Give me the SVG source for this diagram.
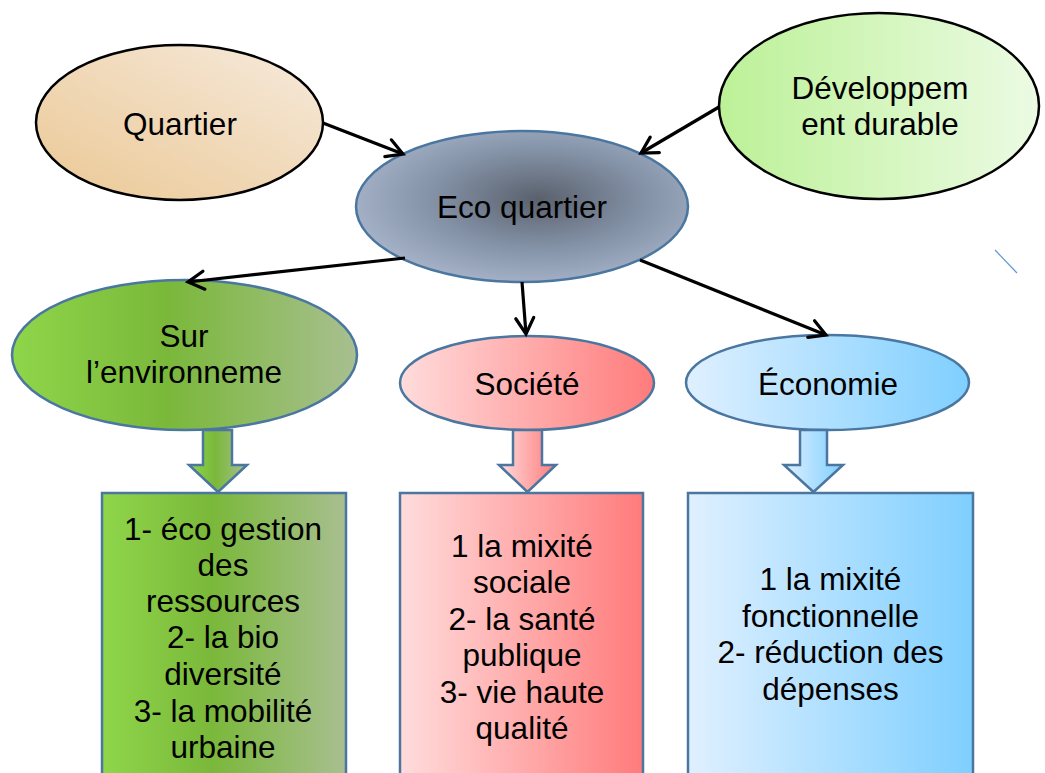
<svg xmlns="http://www.w3.org/2000/svg" width="1045" height="773" viewBox="0 0 1045 773">
<defs>
<linearGradient id="gQuartier" x1="0" y1="1" x2="1" y2="0"><stop offset="0" stop-color="#ebc894"/><stop offset="1" stop-color="#f6eadd"/></linearGradient>
<linearGradient id="gDev" x1="0" y1="0" x2="1" y2="0"><stop offset="0" stop-color="#bcf197"/><stop offset="1" stop-color="#ecfbe4"/></linearGradient>
<radialGradient id="gEco" cx="0.55" cy="0.45" r="0.6"><stop offset="0" stop-color="#5a616d"/><stop offset="0.55" stop-color="#8593a8"/><stop offset="1" stop-color="#a8b5ca"/></radialGradient>
<linearGradient id="gGreen" x1="0" y1="0" x2="1" y2="0"><stop offset="0" stop-color="#8fd64a"/><stop offset="0.45" stop-color="#7ab83a"/><stop offset="1" stop-color="#a8bf90"/></linearGradient>
<linearGradient id="gPink" x1="0" y1="0" x2="1" y2="0"><stop offset="0" stop-color="#ffdcdc"/><stop offset="1" stop-color="#ff7b7b"/></linearGradient>
<linearGradient id="gBlue" x1="0" y1="0" x2="1" y2="0"><stop offset="0" stop-color="#dff0ff"/><stop offset="1" stop-color="#7fcfff"/></linearGradient>
<marker id="arr" markerUnits="userSpaceOnUse" markerWidth="24" markerHeight="24" viewBox="0 0 24 24" refX="20" refY="12" orient="auto">
<path d="M4,3 L20,12 L4,21" fill="none" stroke="#000" stroke-width="3.2" stroke-linecap="round" stroke-linejoin="miter"/>
</marker>
<style>
.t{font-family:"Liberation Sans",Arial,sans-serif;font-size:31.5px;fill:#000;text-anchor:middle}
.blk{stroke:#000;stroke-width:2.5}
.blu{stroke:#4a76a0;stroke-width:2.5}
.con{stroke:#000;stroke-width:3.2;fill:none;marker-end:url(#arr)}
</style>
</defs>
<g id="quartier">
<ellipse cx="179.5" cy="122.5" rx="143.5" ry="77.5" fill="url(#gQuartier)" class="blk"/>
<text class="t" x="180" y="135">Quartier</text>
</g>
<g id="developpement">
<ellipse cx="879" cy="106" rx="160" ry="93" fill="url(#gDev)" class="blk"/>
<text class="t" x="880" y="99">Développem</text>
<text class="t" x="880" y="135">ent durable</text>
</g>
<g id="eco-quartier">
<ellipse cx="522" cy="206.5" rx="166" ry="75.5" fill="url(#gEco)" class="blu"/>
<text class="t" x="522" y="218">Eco quartier</text>
</g>
<g id="environnement">
<ellipse cx="184.5" cy="355" rx="172.5" ry="75" fill="url(#gGreen)" class="blu"/>
<text class="t" x="184" y="347">Sur</text>
<text class="t" x="184" y="383">l’environneme</text>
</g>
<g id="societe">
<ellipse cx="527" cy="383" rx="127" ry="47" fill="url(#gPink)" class="blu"/>
<text class="t" x="527" y="395">Société</text>
</g>
<g id="economie">
<ellipse cx="827.5" cy="382.5" rx="141.5" ry="47.5" fill="url(#gBlue)" class="blu"/>
<text class="t" x="828" y="395">Économie</text>
</g>
<g id="connectors">
<line class="con" x1="323" y1="123" x2="403" y2="154"/>
<line class="con" x1="719" y1="107" x2="641" y2="153"/>
<line class="con" x1="405" y1="258" x2="188" y2="282"/>
<line class="con" x1="522" y1="282" x2="526" y2="334"/>
<line class="con" x1="640" y1="260" x2="826" y2="335"/>
</g>
<g id="arrow-environnement">
<polygon points="203,430 232,430 232,465 247,465 218,492 189,465 203,465" fill="url(#gGreen)" class="blu"/>
</g>
<g id="arrow-societe">
<polygon points="513,430 542,430 542,465 556,465 527.5,492 499,465 513,465" fill="url(#gPink)" class="blu"/>
</g>
<g id="arrow-economie">
<polygon points="800,430 827,430 827,465 843,465 813.5,492 784,465 800,465" fill="url(#gBlue)" class="blu"/>
</g>
<g id="box-environnement">
<rect x="102" y="493" width="244" height="300" fill="url(#gGreen)" class="blu"/>
<text class="t" x="223" y="540">1- éco gestion</text>
<text class="t" x="223" y="576">des</text>
<text class="t" x="223" y="612">ressources</text>
<text class="t" x="223" y="648">2- la bio</text>
<text class="t" x="223" y="685">diversité</text>
<text class="t" x="223" y="722">3- la mobilité</text>
<text class="t" x="223" y="758">urbaine</text>
</g>
<g id="box-societe">
<rect x="400" y="493" width="243" height="300" fill="url(#gPink)" class="blu"/>
<text class="t" x="522" y="557">1 la mixité</text>
<text class="t" x="522" y="593">sociale</text>
<text class="t" x="522" y="630">2- la santé</text>
<text class="t" x="522" y="666">publique</text>
<text class="t" x="522" y="703">3- vie haute</text>
<text class="t" x="522" y="739">qualité</text>
</g>
<g id="box-economie">
<rect x="688" y="493" width="285" height="300" fill="url(#gBlue)" class="blu"/>
<text class="t" x="830.5" y="590">1 la mixité</text>
<text class="t" x="830.5" y="627">fonctionnelle</text>
<text class="t" x="830.5" y="663">2- réduction des</text>
<text class="t" x="830.5" y="700">dépenses</text>
</g>
<line x1="995" y1="250" x2="1017" y2="273" stroke="#5b9bd5" stroke-width="1.2"/>
</svg>
